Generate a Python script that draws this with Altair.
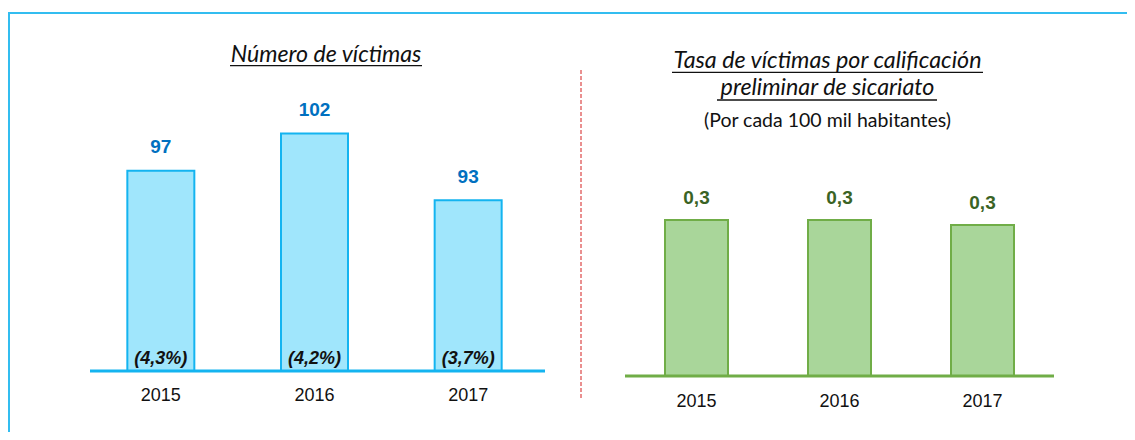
import altair as alt
import pandas as pd

# ---- data ----
years = ["2015", "2016", "2017"]
victims = [97, 102, 93]
victim_share = ["(4,3%)", "(4,2%)", "(3,7%)"]
rates = [0.32, 0.32, 0.31]
rate_labels = ["0,3", "0,3", "0,3"]
left_title = ["Número de víctimas"]
right_title = ["Tasa de víctimas por calificación", "preliminar de sicariato"]
right_subtitle = ["(Por cada 100 mil habitantes)"]

left_df = pd.DataFrame({"year": years, "victims": victims, "share": victim_share})
right_df = pd.DataFrame({"year": years, "rate": rates, "label": rate_labels})

NUM_FONT = "Liberation Sans Narrow, Arial Narrow, Liberation Sans"
TITLE_FONT = "Lato"

W, H = 1119, 424

# ---- left panel: number of victims ----
xl = alt.Scale(domain=years, range=[76, 537], paddingInner=0, paddingOuter=0)
yl = alt.Scale(domain=[70, 70 + 363 / 7.42], range=[363, 0], zero=False, nice=False)
XL = alt.X("year:N", scale=xl, axis=None)
YL = alt.Y("victims:Q", scale=yl, axis=None)

lbase = alt.Chart(left_df)
l_bars = lbase.mark_bar(size=67, fill="#A0E6FC", stroke="#14B4F0", strokeWidth=2).encode(
    x=XL, y=YL, y2=alt.datum(70)
)
l_axis = alt.Chart(pd.DataFrame({"v": [70]})).mark_rule(color="#14B4F0", strokeWidth=3).encode(
    x=alt.value(82), x2=alt.value(537), y=alt.Y("v:Q", scale=yl, axis=None)
)
l_vals = lbase.mark_text(
    dy=-23.5, font=NUM_FONT, fontSize=19, fontWeight="bold", color="#0070C0", baseline="middle"
).encode(x=XL, y=YL, text="victims:Q")
l_share = lbase.mark_text(
    font=NUM_FONT, fontSize=18, fontWeight="bold", fontStyle="italic", color="#111111", baseline="middle"
).encode(x=XL, y=alt.value(351), text="share:N")
l_years = lbase.mark_text(
    font=NUM_FONT, fontSize=18, color="#111111", baseline="middle"
).encode(x=XL, y=alt.value(388), text="year:N")

left = alt.layer(l_bars, l_axis, l_vals, l_share, l_years)

# ---- right panel: rate ----
xr = alt.Scale(domain=years, range=[617, 1046], paddingInner=0, paddingOuter=0)
yr = alt.Scale(domain=[0, 368 / 487.5], range=[368, 0], nice=False)
XR = alt.X("year:N", scale=xr, axis=None)
YR = alt.Y("rate:Q", scale=yr, axis=None)

rbase = alt.Chart(right_df)
r_bars = rbase.mark_bar(size=63, fill="#A9D69A", stroke="#70AD47", strokeWidth=2).encode(
    x=XR, y=YR, y2=alt.datum(0)
)
r_axis = alt.Chart(pd.DataFrame({"v": [0]})).mark_rule(color="#70AD47", strokeWidth=3).encode(
    x=alt.value(617), x2=alt.value(1046), y=alt.Y("v:Q", scale=yr, axis=None)
)
r_vals = rbase.mark_text(
    dy=-22, font=NUM_FONT, fontSize=19, fontWeight="bold", color="#3A6324", baseline="middle"
).encode(x=XR, y=YR, text="label:N")
r_years = rbase.mark_text(
    font=NUM_FONT, fontSize=18, color="#111111", baseline="middle"
).encode(x=XR, y=alt.value(394), text="year:N")

right = alt.layer(r_bars, r_axis, r_vals, r_years)

# ---- titles and decorations ----
t_left = alt.Chart(pd.DataFrame({"t": left_title})).mark_text(
    font=TITLE_FONT, fontSize=23.2, fontStyle="italic", color="#111111", baseline="alphabetic"
).encode(x=alt.value(318), y=alt.value(54), text="t:N")
u_left = alt.Chart(pd.DataFrame({"t": left_title})).mark_rule(color="#111111", strokeWidth=1.3).encode(
    x=alt.value(222), x2=alt.value(414), y=alt.value(57.7)
)
t_r1 = alt.Chart(pd.DataFrame({"t": right_title[:1]})).mark_text(
    font=TITLE_FONT, fontSize=23.3, fontStyle="italic", color="#111111", baseline="alphabetic"
).encode(x=alt.value(819.5), y=alt.value(60), text="t:N")
u_r1 = alt.Chart(pd.DataFrame({"t": right_title[:1]})).mark_rule(color="#111111", strokeWidth=1.3).encode(
    x=alt.value(664), x2=alt.value(975), y=alt.value(64.3)
)
t_r2 = alt.Chart(pd.DataFrame({"t": right_title[1:]})).mark_text(
    font=TITLE_FONT, fontSize=23.3, fontStyle="italic", color="#111111", baseline="alphabetic"
).encode(x=alt.value(819.5), y=alt.value(87), text="t:N")
u_r2 = alt.Chart(pd.DataFrame({"t": right_title[1:]})).mark_rule(color="#111111", strokeWidth=1.3).encode(
    x=alt.value(709), x2=alt.value(929), y=alt.value(92)
)
t_sub = alt.Chart(pd.DataFrame({"t": right_subtitle})).mark_text(
    font=TITLE_FONT, fontSize=19.5, color="#111111", baseline="alphabetic"
).encode(x=alt.value(819.5), y=alt.value(119), text="t:N")

one = pd.DataFrame({"k": [0]})
divider = alt.Chart(one).mark_rule(color="#D42020", strokeWidth=1, strokeDash=[4, 2]).encode(
    x=alt.value(573), y=alt.value(62), y2=alt.value(390)
)
border_top = alt.Chart(one).mark_rule(color="#33BDF0", strokeWidth=2).encode(
    x=alt.value(0), x2=alt.value(W), y=alt.value(5)
)
border_left = alt.Chart(one).mark_rule(color="#33BDF0", strokeWidth=2).encode(
    x=alt.value(1), y=alt.value(5), y2=alt.value(H)
)

deco = alt.layer(t_left, u_left, t_r1, u_r1, t_r2, u_r2, t_sub, divider, border_top, border_left)

chart = (
    alt.layer(left, right, deco)
    .resolve_scale(x="independent", y="independent")
    .properties(width=W, height=H, padding=0, autosize=alt.AutoSizeParams(type="none"))
    .configure_view(stroke=None)
)

chart.save("out.html", embed_options={"renderer": "svg", "actions": False})
